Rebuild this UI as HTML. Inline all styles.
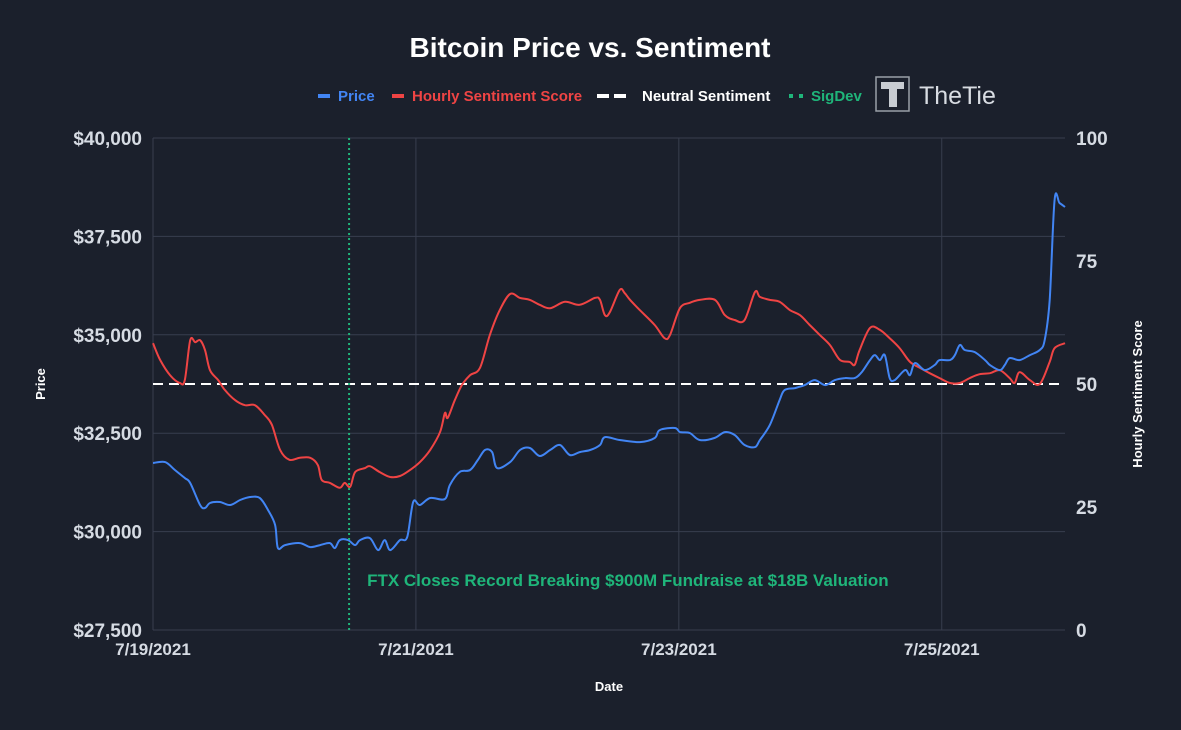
<!DOCTYPE html>
<html><head><meta charset="utf-8"><style>
html,body{margin:0;padding:0;background:#1b202c;}
svg{display:block;font-family:"Liberation Sans",Arial,sans-serif;}
</style></head><body>
<svg id="chart" width="1181" height="730" viewBox="0 0 1181 730">
<rect width="1181" height="730" fill="#1b202c"/>
<text x="590" y="57" text-anchor="middle" font-size="28" font-weight="bold" fill="#ffffff">Bitcoin Price vs. Sentiment</text>
<g>
<g><rect x="318" y="94" width="12" height="4" fill="#4285f4"/><text x="338" y="101" font-size="15" font-weight="bold" fill="#4285f4">Price</text></g>
<g><rect x="392" y="94" width="12" height="4" fill="#ef4444"/><text x="412" y="101" font-size="15" font-weight="bold" fill="#ef4444">Hourly Sentiment Score</text></g>
<g><rect x="597" y="94" width="12" height="4" fill="#fff"/><rect x="614" y="94" width="12" height="4" fill="#fff"/><text x="642" y="101" font-size="15" font-weight="bold" fill="#ffffff">Neutral Sentiment</text></g>
<g><rect x="789" y="94" width="4" height="4" fill="#1fb57a"/><rect x="799" y="94" width="4" height="4" fill="#1fb57a"/><text x="811" y="101" font-size="15" font-weight="bold" fill="#1fb57a">SigDev</text></g>
<g><rect x="876" y="77" width="33" height="34" fill="none" stroke="#9aa0a8" stroke-width="1.5"/><rect x="881" y="82" width="23" height="7" fill="#c8ccd2"/><rect x="889" y="89" width="8" height="18" fill="#c8ccd2"/><text x="919" y="104" font-size="25" fill="#d8dce2">TheTie</text></g>
</g>
<g id="grid"></g>
<g id="marks"></g>
<text x="45" y="384" transform="rotate(-90 45 384)" text-anchor="middle" font-size="13" font-weight="bold" fill="#ffffff">Price</text>
<text x="1142" y="394" transform="rotate(-90 1142 394)" text-anchor="middle" font-size="13" font-weight="bold" fill="#ffffff">Hourly Sentiment Score</text>
<text x="609" y="691" text-anchor="middle" font-size="13" font-weight="bold" fill="#ffffff">Date</text>
</svg>
<script>
const priceHours=[0,2.2,4,5.8,6.8,8.6,9.5,10.4,12.2,14.1,15.9,17.7,19.5,21,22.3,22.8,24.1,26.8,28.7,30.5,32.3,33.2,34.1,35.6,36.9,37.8,39.6,41.1,42.3,43.3,45.1,46.4,47.5,48.7,50.6,53.3,54.2,56,57.9,59.3,60.6,61.9,62.8,65.2,67,68.8,70.6,72.5,74.3,76.1,77.9,79.8,81.6,82.5,85.2,88.9,91.6,92.5,95.3,96.2,98,99.8,102.5,104.4,106.2,108,109.9,110.8,112.6,114.4,115.3,117.2,119,120.8,122.7,124.5,126.3,128.1,129.4,130.9,131.8,132.7,133.6,134.5,135.4,137.3,138.2,139.1,140.9,142.7,143.6,145.5,146.4,147.3,148.2,150,151.9,152.8,154.6,155.5,156.4,158.2,160.1,161.9,162.8,163.7,164.6,165.5,166.5];
const priceValues=[31742,31767,31564,31361,31234,30675,30599,30726,30751,30675,30802,30878,30853,30548,30167,29582,29658,29709,29607,29658,29709,29582,29785,29785,29658,29785,29836,29531,29785,29531,29785,29861,30751,30675,30853,30827,31183,31513,31564,31818,32072,32021,31615,31767,32072,32123,31920,32072,32199,31945,32021,32072,32199,32402,32326,32275,32377,32580,32631,32529,32504,32326,32377,32529,32453,32199,32148,32326,32707,33342,33596,33647,33723,33850,33723,33850,33901,33901,34053,34358,34485,34358,34485,33901,33850,34104,33977,34282,34104,34231,34358,34358,34485,34740,34613,34562,34358,34231,34104,34231,34409,34358,34485,34613,34867,35884,38425,38348,38247];
const sentHours=[0,1.3,3.1,4.9,5.8,6.8,7.7,8.6,9.5,10.4,11.9,13.1,15,16.8,18.6,20.4,21.7,23.2,24.9,26.8,28.7,30.1,30.8,32.3,34.1,35,36,36.9,38.7,39.6,41.4,43.3,45.1,46.9,48.7,50.6,52.4,53.3,53.8,55.1,56.4,57.9,59.7,61.5,63.3,65.2,67,68.8,70.6,72.5,75.2,77.9,80.7,81.6,82.5,83.4,85.2,86.1,87.1,88.9,91.6,93.4,94.4,96.2,98,99.8,102.6,104.4,106.2,108,109.9,110.8,112.6,114.4,116.3,118.1,119.9,121.7,123.6,125.4,127.2,128.1,129,130.9,132.7,134.5,136.3,138.2,140,141.8,143.6,145.5,147.3,149.1,150.9,152.8,154.6,156.4,157.3,158.2,160.1,161.9,163.7,164.6,166.5];
const sentValues=[58.3,54.9,51.8,50.2,50.8,58.9,58.5,58.9,56.9,52.8,50.8,48.8,46.7,45.7,45.7,43.7,41.7,36.6,34.6,35,35,33.5,30.5,29.9,28.9,29.9,29.1,32.1,32.9,33.3,32.1,31.1,31.3,32.5,34.1,36.6,40.2,44.1,43.1,46.7,49.8,51.8,53.3,60,65,68.3,67.5,67.1,66.1,65.4,66.7,66.1,67.5,67.1,64,64.6,69.1,68.5,67.1,65,62,59.3,60,65.4,66.5,67.1,67.1,64,63,63,68.7,67.7,67.1,66.7,65,64,62,60,57.9,54.9,54.5,53.9,56.9,61.4,61,59.3,57.3,54.5,53.3,52.2,51.2,50.2,50.2,51.2,52,52.2,52.8,51.2,50.2,52.4,50.8,50,54.5,57.3,58.3];
const priceTicks=[27500,30000,32500,35000,37500,40000];
const priceTickLabels=["$27,500","$30,000","$32,500","$35,000","$37,500","$40,000"];
const sentTicks=[0,25,50,75,100];
const dateTickHours=[0,48,96,144];
const dateTickLabels=["7/19/2021","7/21/2021","7/23/2021","7/25/2021"];
const neutralLevel=50;
const sigDevHour=35.8;
const sigDevLabel="FTX Closes Record Breaking $900M Fundraise at $18B Valuation";

const X0=153,X1=1065,Y0=630,Y1=138,HMAX=166.5;
const xs=h=>X0+(h/HMAX)*(X1-X0);
const yp=p=>Y0-(p-27500)/12500*(Y0-Y1);
const ys=s=>Y0-s/100*(Y0-Y1);
const NS="http://www.w3.org/2000/svg";
const grid=document.getElementById('grid'),marks=document.getElementById('marks');
function mk(tag,attrs,parent){const e=document.createElementNS(NS,tag);for(const k in attrs)e.setAttribute(k,attrs[k]);parent.appendChild(e);return e;}
priceTicks.forEach((p,i)=>{
  const l=mk('line',{x1:X0,x2:X1,y1:yp(p),y2:yp(p),stroke:'#383e4e','stroke-width':1},grid);
  
  
  const t=mk('text',{x:142,y:yp(p)+7,'text-anchor':'end','font-size':19,'font-weight':'bold',fill:'#d6dbe3'},grid);
  t.textContent=priceTickLabels[i];
  
  
});
sentTicks.forEach(s=>{
  const t=mk('text',{x:1076,y:ys(s)+7,'font-size':19,'font-weight':'bold',fill:'#d6dbe3'},grid);
  t.textContent=String(s);
  
  
});
const vx=mk('line',{x1:X0,x2:X0,y1:Y1,y2:Y0,stroke:'#383e4e'},grid);


dateTickHours.forEach((h,i)=>{
  const l=mk('line',{x1:xs(h),x2:xs(h),y1:Y1,y2:Y0,stroke:'#383e4e'},grid);
  
  
  const t=mk('text',{x:xs(h),y:655,'text-anchor':'middle','font-size':17,'font-weight':'bold',fill:'#d6dbe3'},grid);
  t.textContent=dateTickLabels[i];
  
  
});
function smooth(pts){let d='M'+pts[0][0].toFixed(1)+','+pts[0][1].toFixed(1);
  for(let i=0;i<pts.length-1;i++){const p0=pts[i-1]||pts[i],p1=pts[i],p2=pts[i+1],p3=pts[i+2]||p2;
    const c1=[p1[0]+(p2[0]-p0[0])/6,p1[1]+(p2[1]-p0[1])/6],c2=[p2[0]-(p3[0]-p1[0])/6,p2[1]-(p3[1]-p1[1])/6];
    d+=`C${c1[0].toFixed(1)},${c1[1].toFixed(1)} ${c2[0].toFixed(1)},${c2[1].toFixed(1)} ${p2[0].toFixed(1)},${p2[1].toFixed(1)}`;}
  return d;}
const nl=mk('line',{x1:X0,x2:X1,y1:ys(neutralLevel),y2:ys(neutralLevel),stroke:'#ffffff','stroke-width':2,'stroke-dasharray':'10,6'},marks);


const sl=mk('path',{d:smooth(sentHours.map((h,i)=>[xs(h),ys(sentValues[i])])),fill:'none',stroke:'#ef4444','stroke-width':2},marks);


const pl=mk('path',{d:smooth(priceHours.map((h,i)=>[xs(h),yp(priceValues[i])])),fill:'none',stroke:'#4285f4','stroke-width':2},marks);


const sd=mk('line',{x1:xs(sigDevHour),x2:xs(sigDevHour),y1:Y1,y2:Y0,stroke:'#1fb57a','stroke-width':2,'stroke-dasharray':'2,3'},marks);


const st=mk('text',{x:xs(sigDevHour)+18,y:586,'font-size':17,'font-weight':'bold',fill:'#1fb57a'},marks);
st.textContent=sigDevLabel;


</script>
</body></html>
